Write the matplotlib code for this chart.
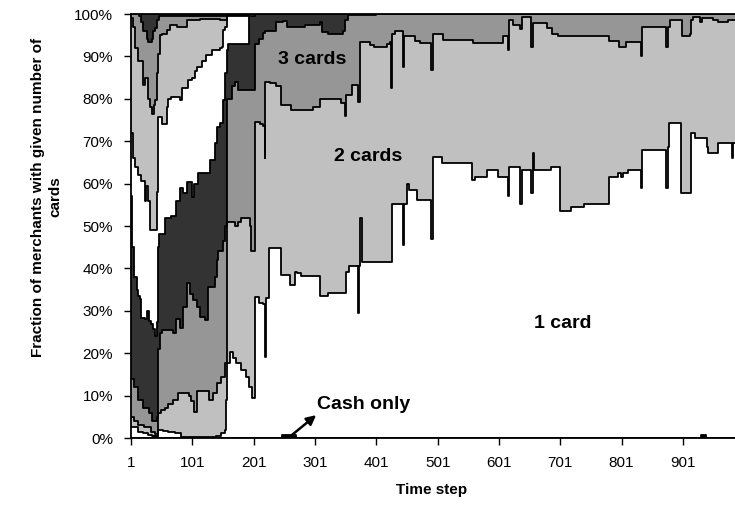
import matplotlib
matplotlib.use("Agg")
import matplotlib.pyplot as plt

plt.rcParams['font.family'] = ['Liberation Sans', 'DejaVu Sans']

# Cumulative share (%) of merchants holding at most n cards, as step series.
# Each pair: time steps where the value changes, and the value from then on.
cash_t = [1, 37, 45, 247, 270, 931, 938, 986]
cash_top = [0, 0.5, 0, 0.7, 0, 0.6, 0, 0]

one_t = [1, 8, 12, 20, 28, 35, 45, 53, 62, 72, 82, 140, 148, 154, 156, 158, 162, 167,
         172, 180, 188, 194, 199, 204, 210, 216, 219, 221, 226, 245, 261, 268, 271, 279,
         310, 322, 352, 357, 371, 373, 375, 377, 427, 445, 447, 451, 454, 468, 490, 493,
         508, 557, 562, 582, 600, 615, 617, 636, 638, 654, 656, 658, 686, 700, 718, 740,
         780, 795, 800, 804, 812, 832, 834, 873, 876, 878, 898, 915, 920, 940, 942, 958,
         981, 983, 986]
one_top = [2.5, 2.7, 1.4, 1.2, 0.8, 0.4, 1.9, 1.6, 1.4, 1.2, 0.2, 0.5, 1.2, 1.9, 9, 17.7,
           20.4, 18.8, 17.7, 16, 14.5, 12, 9.5, 33.3, 31.8, 31.5, 19, 33, 44.7, 38.4, 36,
           39.2, 38.8, 38.2, 33.6, 34.2, 39.2, 40.6, 29.5, 40.6, 51.8, 41.5, 55.2, 45.5,
           55.2, 60, 58.5, 56.1, 47, 66.3, 64.8, 60.8, 61.6, 63.2, 61.6, 57, 64, 55.3,
           63.2, 57.7, 67.1, 63.2, 64, 53.6, 54.4, 55.2, 61.6, 62.4, 61.6, 62.4, 63.2, 59,
           67.9, 59, 68.7, 74.4, 57.7, 71.9, 70.7, 68.7, 67.1, 69.5, 66, 69.5, 69.5]

two_t = [1, 6, 12, 22, 33, 40, 45, 50, 56, 62, 70, 78, 95, 99, 104, 108, 126, 129, 134,
         141, 148, 154, 157, 170, 176, 181, 189, 195, 197, 203, 211, 216, 219, 220, 228,
         238, 246, 262, 297, 309, 344, 350, 352, 361, 371, 374, 390, 398, 418, 423, 425,
         427, 431, 444, 446, 464, 472, 491, 493, 510, 559, 608, 615, 617, 624, 636, 638,
         654, 656, 679, 687, 698, 781, 797, 809, 832, 834, 873, 876, 880, 899, 913, 915,
         918, 929, 932, 950, 958, 975, 986]
two_top = [5, 4, 3, 2.5, 1.5, 1, 5.9, 6.5, 7, 8, 9, 10.5, 10, 8.7, 6.2, 11, 11, 8.9, 10.6,
           13, 14.5, 17.7, 51, 50, 51, 51.8, 52, 50, 44, 74.5, 74, 73.5, 66, 84, 83.7, 83,
           78.5, 77.4, 78.1, 80, 78.9, 76, 80.9, 83.3, 79.3, 93.5, 92.8, 92.3, 93, 93.5,
           82.5, 95.4, 96, 87.6, 94.7, 93.7, 93.2, 86.8, 95.4, 93.9, 93.2, 94.7, 91.5, 98.6,
           97.5, 96.4, 99.4, 92.3, 97.8, 96.7, 95.4, 94.7, 93.7, 92.3, 93.4, 90, 97, 92.3,
           97, 98.6, 94.8, 95.4, 98.6, 99.4, 98, 99, 98.6, 98, 98.6, 98.6]

three_t = [1, 6, 12, 20, 30, 36, 43, 45, 48, 51, 70, 75, 81, 86, 92, 97, 102, 108, 113,
           121, 127, 138, 141, 143, 151, 155, 157, 165, 170, 176, 203, 210, 217, 220, 238,
           249, 255, 285, 309, 312, 323, 347, 350, 355, 400, 986]
three_top = [14, 12, 9, 7, 6, 4, 5, 21, 24.7, 25.5, 24.7, 28, 26, 31, 36.5, 34, 32.5, 31,
             28.6, 27.8, 35.7, 38, 42, 44, 46.5, 50, 80, 83, 84, 82, 93, 94, 95.5, 96, 98,
             98.3, 97, 97.5, 98, 95.8, 95.4, 96, 98.6, 99.8, 100, 100]

four_t = [1, 3, 6, 10, 13, 16, 18, 24, 27, 30, 34, 37, 40, 43, 45, 47, 56, 67, 75, 81, 86,
          92, 100, 103, 111, 125, 130, 138, 141, 146, 151, 155, 157, 160, 193, 203, 986]
four_top = [57, 45, 38, 35, 33.6, 32.8, 28.4, 28, 30, 27.5, 27, 25.6, 24, 27.4, 45, 48, 52,
            52.4, 56, 59, 57.7, 60.4, 56.9, 60, 62.4, 62.4, 65.6, 69.5, 73.4, 74.2, 79.7,
            86, 91.5, 93, 99.6, 100, 100]

five_t = [1, 4, 8, 12, 18, 24, 26, 29, 32, 41, 43, 45, 51, 59, 62, 67, 81, 84, 94, 100,
          105, 108, 116, 124, 133, 146, 149, 151, 154, 157, 193, 986]
five_top = [72, 66, 64, 62, 60.5, 56, 59.5, 56, 49, 49, 58, 75.8, 74, 78, 80, 80.5, 79.7,
            82.5, 84.4, 85, 86.5, 87.6, 88.8, 90.3, 91.5, 92, 92.3, 96.2, 97, 99.5, 100, 100]

six_t = [1, 4, 8, 13, 21, 24, 29, 32, 35, 38, 40, 43, 45, 48, 51, 59, 65, 76, 92, 114, 146,
         157, 193, 986]
six_top = [99, 97, 92, 89, 83.3, 85, 80, 78, 76.3, 78.6, 79.7, 86, 90.5, 95, 95.3, 96.2,
           97.5, 97, 98.5, 98.8, 98.7, 99.7, 100, 100]

seven_t = [1, 14, 18, 21, 27, 29, 35, 37, 40, 43, 46, 157, 193, 986]
seven_top = [100, 99.5, 98, 96, 94.2, 93.5, 94, 96, 96.8, 98.5, 99.6, 99.8, 100, 100]

xtick_vals = [1, 101, 201, 301, 401, 501, 601, 701, 801, 901]
ytick_vals = [0, 10, 20, 30, 40, 50, 60, 70, 80, 90, 100]
ytick_labels = ['0%', '10%', '20%', '30%', '40%', '50%', '60%', '70%', '80%', '90%', '100%']

WHITE = '#ffffff'
LIGHT = '#c0c0c0'
MID = '#969696'
DARK = '#333333'


def main():
    fig = plt.figure(figsize=(7.35, 5.07), dpi=100)
    ax = fig.add_axes([131 / 735, 69 / 507, 604 / 735, 424 / 507])

    # top band (8 cards) first, then paint each cumulative area over it
    ax.fill_between(seven_t, seven_top, 100, step='post', color=DARK, lw=0)
    layers = [
        (seven_t, seven_top, MID),
        (six_t, six_top, LIGHT),
        (five_t, five_top, WHITE),
        (four_t, four_top, DARK),
        (three_t, three_top, MID),
        (two_t, two_top, LIGHT),
        (one_t, one_top, WHITE),
        (cash_t, cash_top, 'black'),
    ]
    for t, top, col in layers:
        ax.fill_between(t, 0, top, step='post', color=col, lw=0)
    for t, top, col in layers:
        ax.plot(t, top, drawstyle='steps-post', color='black', lw=1.3)

    ax.set_xlim(1, 986)
    ax.set_ylim(0, 100)
    ax.set_xticks(xtick_vals)
    ax.set_xticklabels([str(v) for v in xtick_vals])
    ax.set_yticks(ytick_vals)
    ax.set_yticklabels(ytick_labels)
    ax.tick_params(direction='out', length=5, width=1, labelsize=11, color='black')
    ax.tick_params(axis='y', pad=8)
    ax.tick_params(axis='x', pad=8)
    ax.spines['right'].set_visible(False)
    for side in ('left', 'bottom', 'top'):
        ax.spines[side].set_linewidth(1.3)

    ax.text(297, 89.3, '3 cards', fontsize=14, fontweight='bold', ha='center', va='center')
    ax.text(387, 66.3, '2 cards', fontsize=14, fontweight='bold', ha='center', va='center')
    ax.text(705, 26.9, '1 card', fontsize=14, fontweight='bold', ha='center', va='center')
    ax.text(381, 7.8, 'Cash only', fontsize=14, fontweight='bold', ha='center', va='center')
    ax.annotate('', xy=(303, 5.4), xytext=(260, 0.3),
                arrowprops=dict(arrowstyle='-|>', color='black', lw=1.8,
                                mutation_scale=14, shrinkA=0, shrinkB=0))

    fig.text(432 / 735, 1 - 490 / 507, 'Time step', fontsize=11, fontweight='bold',
             ha='center', va='center')
    fig.text(47 / 735, 1 - 197 / 507, 'Fraction of merchants with given number of\ncards',
             fontsize=11, fontweight='bold', rotation=90, ha='center', va='center',
             multialignment='center', linespacing=1.3)

    fig.savefig('out.png', dpi=100)


if __name__ == "__main__":
    main()
